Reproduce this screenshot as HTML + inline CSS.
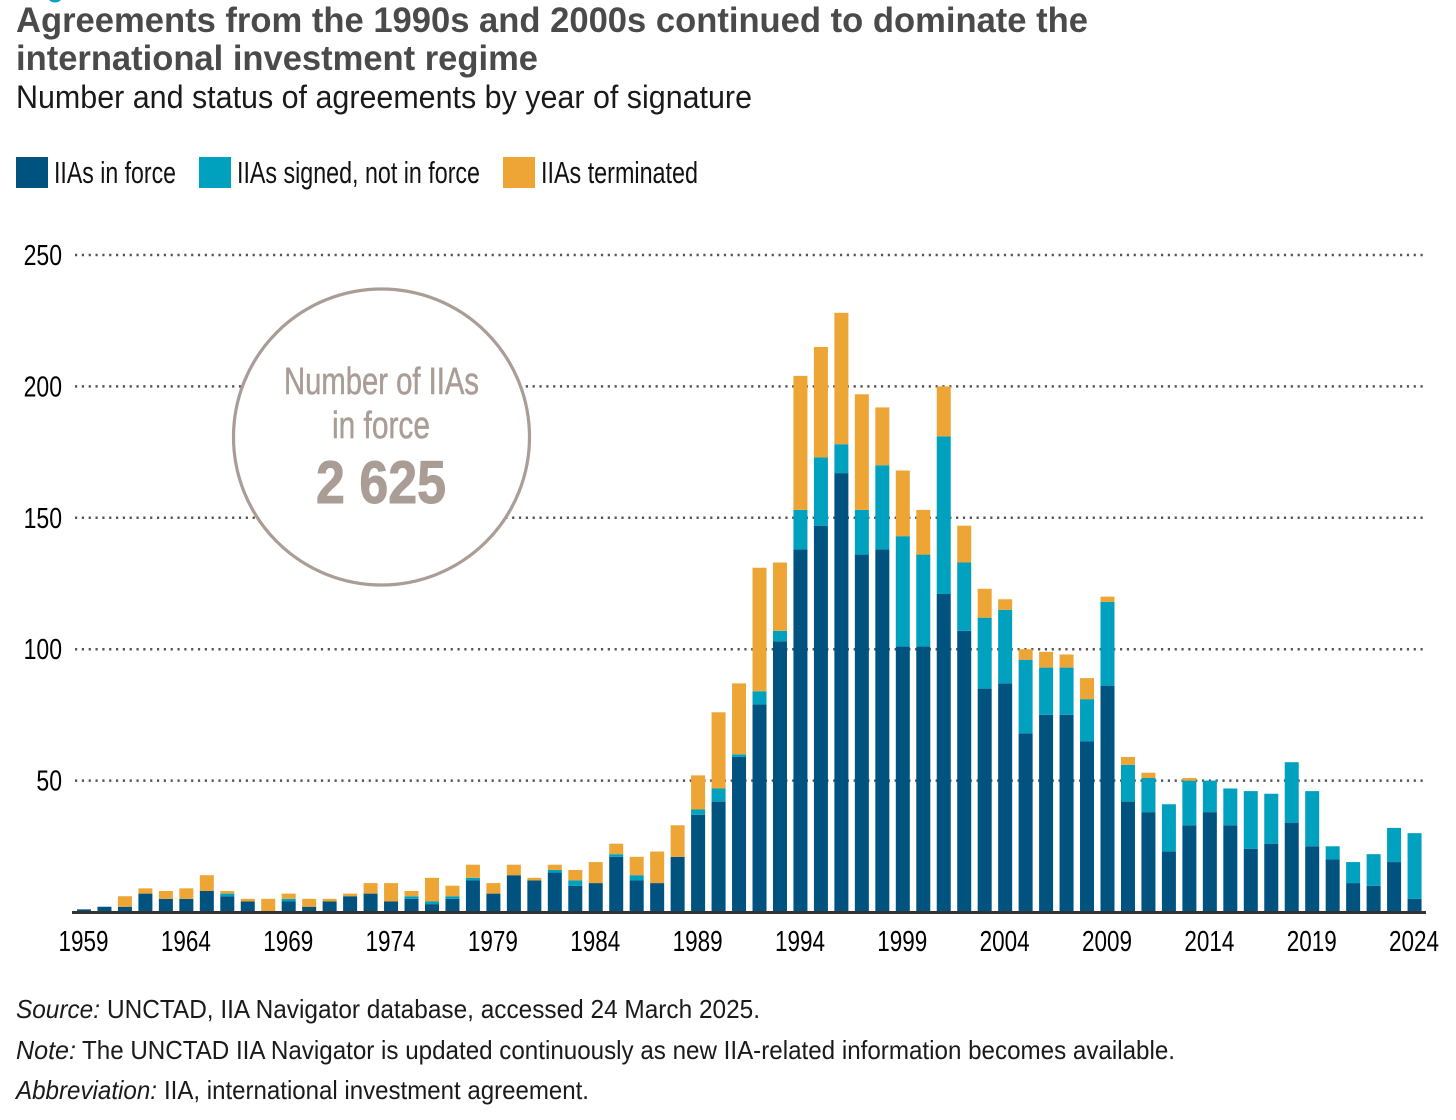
<!DOCTYPE html>
<html lang="en">
<head>
<meta charset="utf-8">
<title>Agreements from the 1990s and 2000s</title>
<style>
html,body{margin:0;padding:0;background:#fff;width:1456px;height:1120px;overflow:hidden}
svg{display:block}
text{font-family:"Liberation Sans",sans-serif}
</style>
</head>
<body>
<svg id="chart" xmlns="http://www.w3.org/2000/svg" width="1456" height="1120" viewBox="0 0 1456 1120">
  <rect x="0" y="0" width="1456" height="1120" fill="#fff"/>
  <ellipse cx="55" cy="-3" rx="7" ry="5.5" fill="#0aa0c4"/>

  <text x="16" y="32" font-size="35" font-weight="700" fill="#4a4a4a" textLength="1072" lengthAdjust="spacingAndGlyphs">Agreements from the 1990s and 2000s continued to dominate the</text>
  <text x="16" y="70" font-size="35" font-weight="700" fill="#4a4a4a" textLength="522" lengthAdjust="spacingAndGlyphs">international investment regime</text>
  <text x="16" y="108" font-size="32" fill="#1a1a1a" textLength="736" lengthAdjust="spacingAndGlyphs">Number and status of agreements by year of signature</text>

  <g>
    <rect x="16" y="157" width="32" height="31" fill="#00527f"/>
    <text x="54" y="183" font-size="31" fill="#111" textLength="122" lengthAdjust="spacingAndGlyphs">IIAs in force</text>
    <rect x="199" y="157" width="32" height="31" fill="#00a0bf"/>
    <text x="237" y="183" font-size="31" fill="#111" textLength="243" lengthAdjust="spacingAndGlyphs">IIAs signed, not in force</text>
    <rect x="503" y="157" width="32" height="31" fill="#eda536"/>
    <text x="541" y="183" font-size="31" fill="#111" textLength="157" lengthAdjust="spacingAndGlyphs">IIAs terminated</text>
  </g>

  <g id="grid"></g>
  <g id="yLabels"></g>

  <g>
    <circle cx="381.5" cy="437" r="148" fill="#fff" stroke="#a99d95" stroke-width="3.2"/>
    <text x="284" y="394" font-size="38" fill="#a99d95" stroke="#a99d95" stroke-width="0.5" textLength="195" lengthAdjust="spacingAndGlyphs">Number of IIAs</text>
    <text x="332" y="438" font-size="38" fill="#a99d95" stroke="#a99d95" stroke-width="0.5" textLength="98" lengthAdjust="spacingAndGlyphs">in force</text>
    <text x="316" y="503" font-size="60" font-weight="700" fill="#a99d95" stroke="#a99d95" stroke-width="1" textLength="130" lengthAdjust="spacingAndGlyphs">2 625</text>
  </g>

  <g id="bars"></g>
  <rect x="72" y="911" width="1354" height="3" fill="#333"/>
  <g id="xLabels"></g>

  <g fill="#1a1a1a" font-size="26">
    <text x="16" y="1018" font-style="italic" textLength="84" lengthAdjust="spacingAndGlyphs">Source:</text>
    <text x="107" y="1018" textLength="653" lengthAdjust="spacingAndGlyphs">UNCTAD, IIA Navigator database, accessed 24 March 2025.</text>
    <text x="16" y="1059" font-style="italic" textLength="60" lengthAdjust="spacingAndGlyphs">Note:</text>
    <text x="82" y="1059" textLength="1093" lengthAdjust="spacingAndGlyphs">The UNCTAD IIA Navigator is updated continuously as new IIA-related information becomes available.</text>
    <text x="16" y="1099" font-style="italic" textLength="141" lengthAdjust="spacingAndGlyphs">Abbreviation:</text>
    <text x="164" y="1099" textLength="425" lengthAdjust="spacingAndGlyphs">IIA, international investment agreement.</text>
  </g>
</svg>
<script>
const years = [1959,1960,1961,1962,1963,1964,1965,1966,1967,1968,1969,1970,1971,1972,1973,1974,1975,1976,1977,1978,1979,1980,1981,1982,1983,1984,1985,1986,1987,1988,1989,1990,1991,1992,1993,1994,1995,1996,1997,1998,1999,2000,2001,2002,2003,2004,2005,2006,2007,2008,2009,2010,2011,2012,2013,2014,2015,2016,2017,2018,2019,2020,2021,2022,2023,2024];
const inForce = [1,2,2,7,5,5,8,6,4,0,4,2,4,6,7,4,5,3,5,12,7,14,12,15,10,11,21,12,11,21,37,42,59,79,103,138,147,167,136,138,101,101,121,107,85,87,68,75,75,65,86,42,38,23,33,38,33,24,26,34,25,20,11,10,19,5];
const signedNotInForce = [0,0,0,0,0,0,0,1,0,0,1,0,0,0,0,0,1,1,1,1,0,0,0,1,2,0,1,2,0,0,2,5,1,5,4,15,26,11,17,32,42,35,60,26,27,28,28,18,18,16,32,14,13,18,17,12,14,22,19,23,21,5,8,12,13,25];
const terminated = [0,0,4,2,3,4,6,1,1,5,2,3,1,1,4,7,2,9,4,5,4,4,1,2,4,8,4,7,12,12,13,29,27,47,26,51,42,50,44,22,25,17,19,14,11,4,4,6,5,8,2,3,2,0,1,0,0,0,0,0,0,0,0,0,0,0];
const yTicks = [50,100,150,200,250];
const xTickLabels = [1959,1964,1969,1974,1979,1984,1989,1994,1999,2004,2009,2014,2019,2024];

const SVGNS = 'http://www.w3.org/2000/svg';
const BAR_WIDTH = 14;
const DIGIT_WIDTH = 12.8;
function xScale(year) { return 84 + (year - 1959) * 20.47; }
function yScale(value) { return 912 - value * 2.628; }

function make(tag, attrs, parent) {
  const el = document.createElementNS(SVGNS, tag);
  for (const k in attrs) el.setAttribute(k, attrs[k]);
  parent.appendChild(el);
  return el;
}

const grid = document.getElementById('grid');
const yLabels = document.getElementById('yLabels');
yTicks.forEach(function (t) {
  const line = make('line', {x1: 75, x2: 1424, y1: yScale(t), y2: yScale(t), stroke: '#555', 'stroke-width': 2.5, 'stroke-dasharray': '2.2 4.63'}, grid);
  
  
  const width = String(t).length * DIGIT_WIDTH;
  const label = make('text', {x: 62 - width, y: yScale(t) + 10, 'font-size': 29, fill: '#000', textLength: width, lengthAdjust: 'spacingAndGlyphs'}, yLabels);
  label.textContent = t;
  
  
});

const bars = document.getElementById('bars');
function addSegment(parent, x, from, amount, color, name) {
  if (amount <= 0) return;
  const top = yScale(from + amount);
  const rect = make('rect', {x: x - BAR_WIDTH / 2, y: top, width: BAR_WIDTH, height: yScale(from) - top, fill: color}, parent);
  
  
}
years.forEach(function (year, i) {
  const g = make('g', {}, bars);
  
  
  const x = xScale(year);
  addSegment(g, x, 0, inForce[i], '#00527f', 'segment-in-force-' + year);
  addSegment(g, x, inForce[i], signedNotInForce[i], '#00a0bf', 'segment-signed-' + year);
  addSegment(g, x, inForce[i] + signedNotInForce[i], terminated[i], '#eda536', 'segment-terminated-' + year);
});

const xLabels = document.getElementById('xLabels');
xTickLabels.forEach(function (year) {
  const label = make('text', {x: xScale(year) - 25.5, y: 951, 'font-size': 29, fill: '#000', textLength: 50, lengthAdjust: 'spacingAndGlyphs'}, xLabels);
  label.textContent = year;
  
  
});
</script>
</body>
</html>
